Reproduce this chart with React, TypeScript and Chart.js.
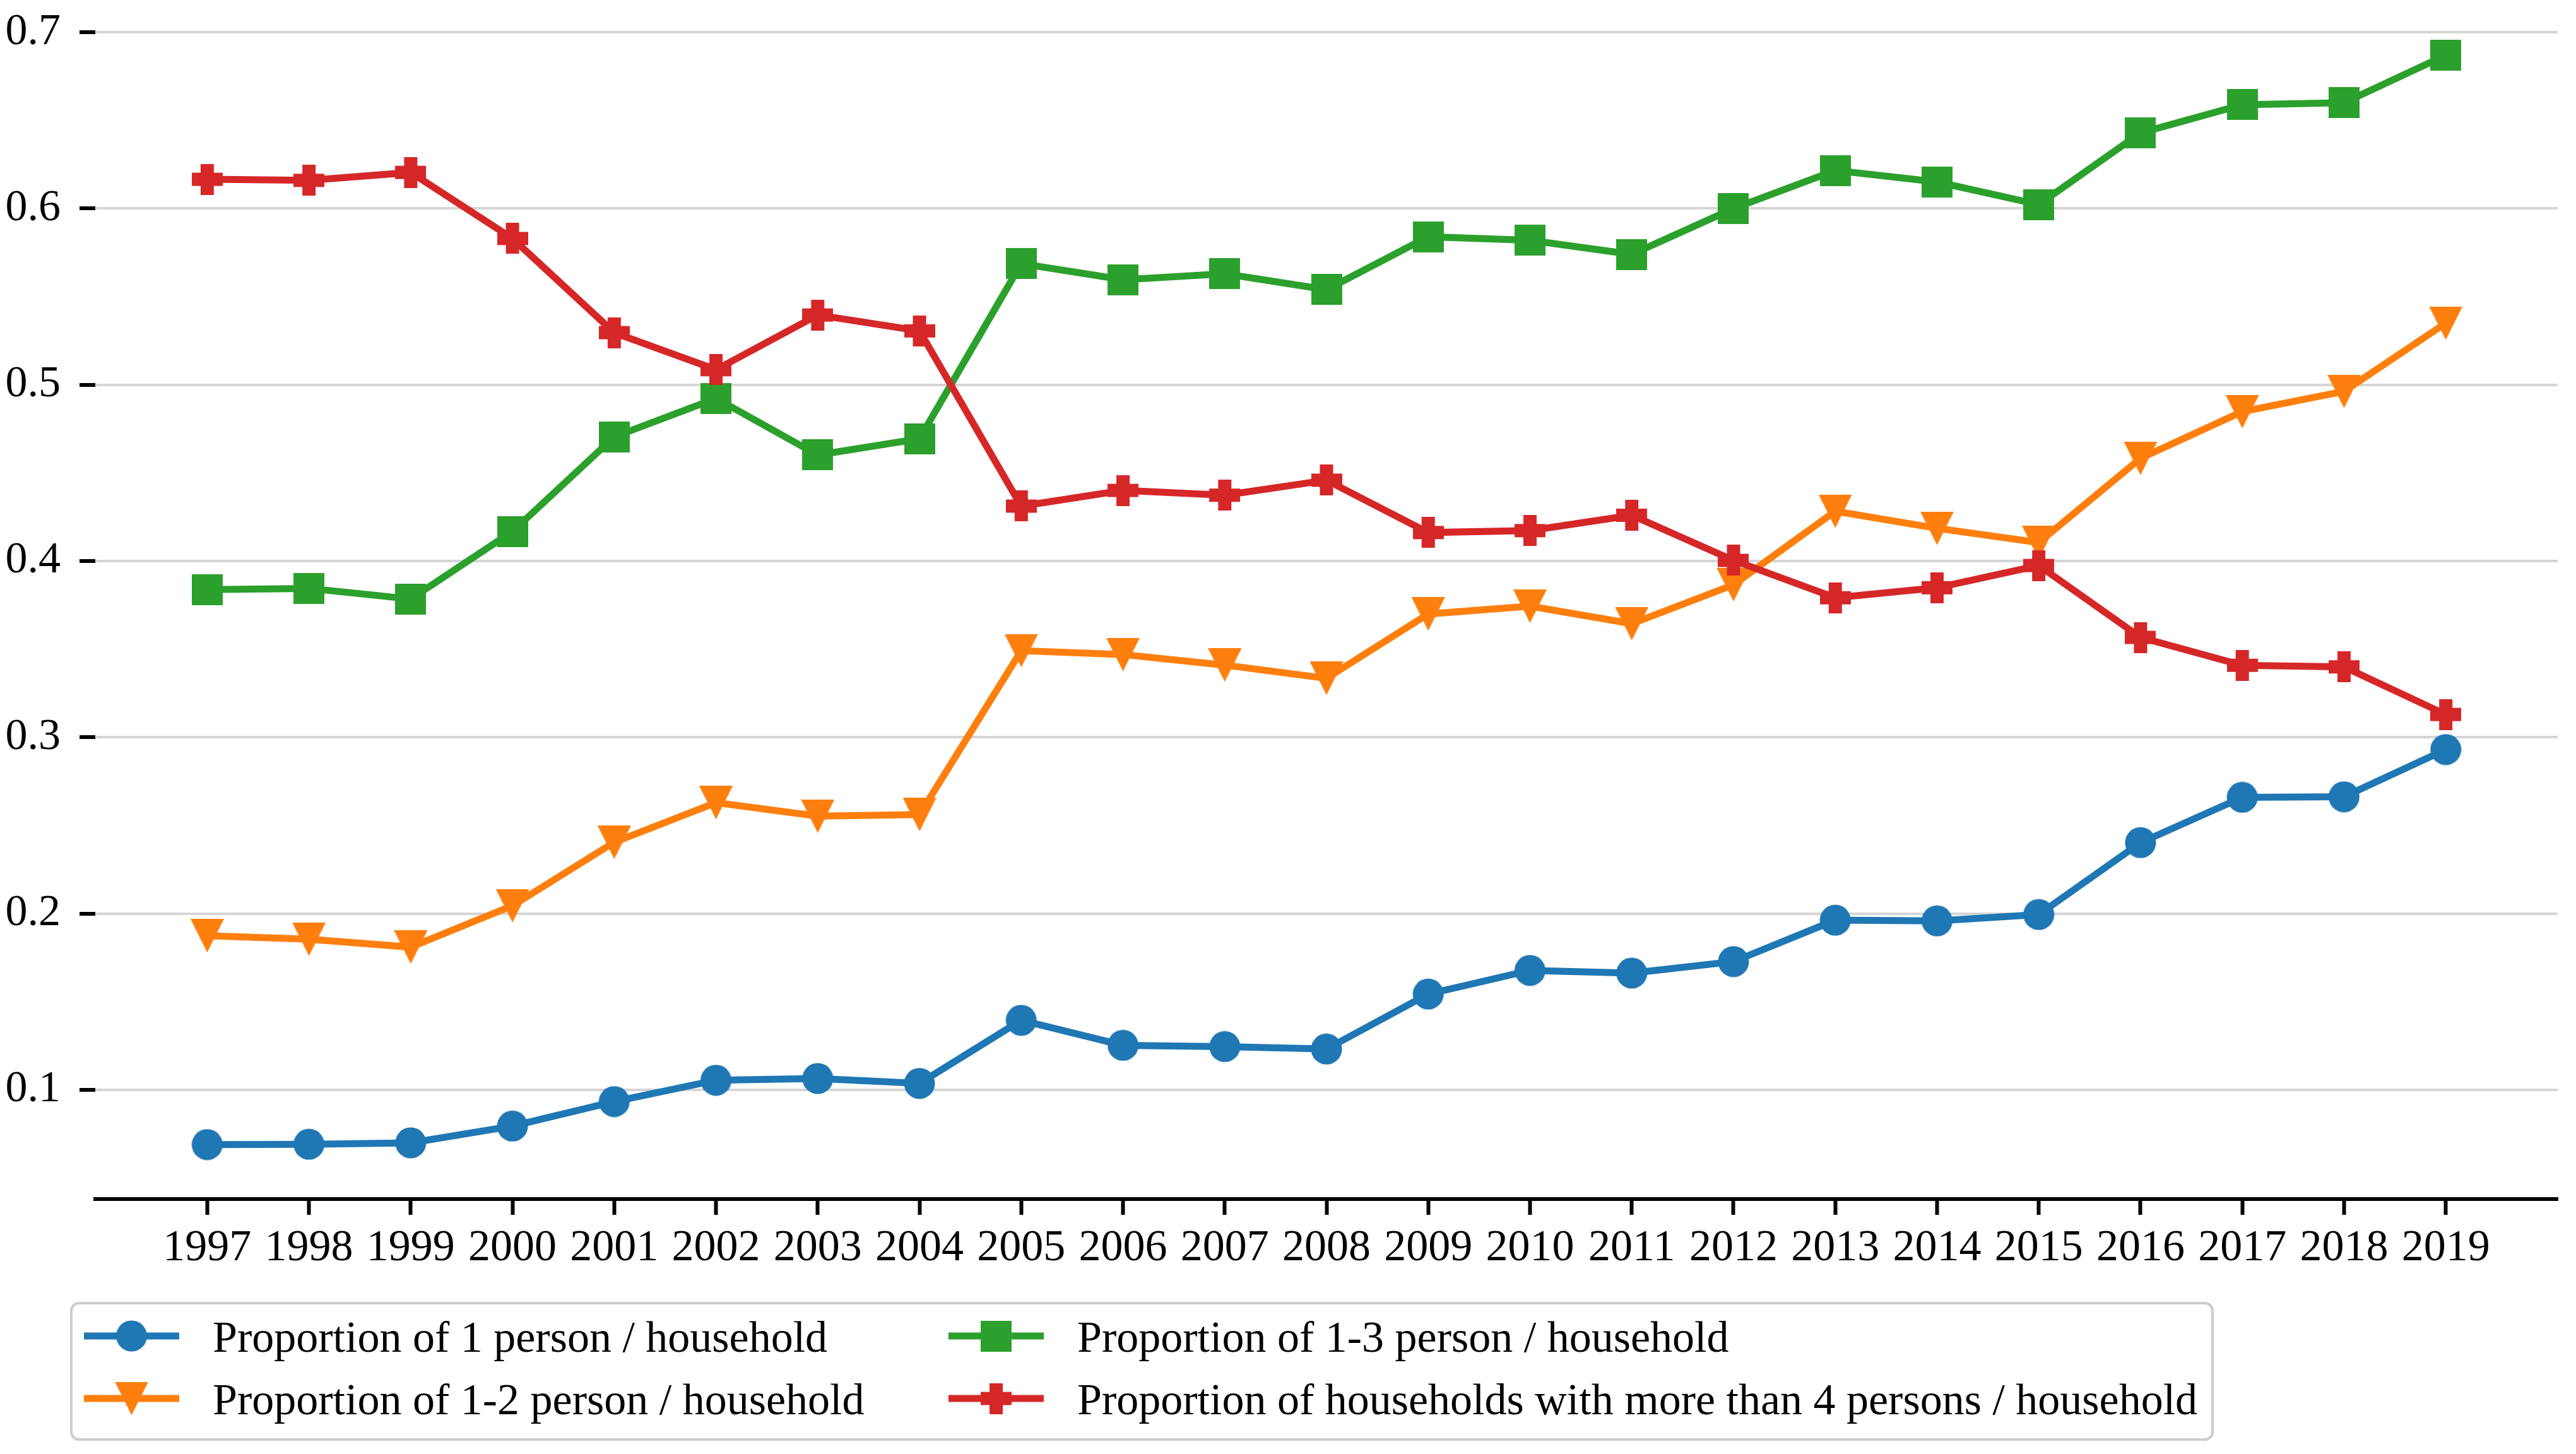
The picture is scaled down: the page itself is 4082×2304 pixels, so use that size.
import React, { useEffect, useRef } from 'react';
import { Chart, registerables } from 'chart.js';

Chart.register(...registerables);

const YEARS = [1997, 1998, 1999, 2000, 2001, 2002, 2003, 2004, 2005, 2006, 2007, 2008, 2009, 2010, 2011, 2012, 2013, 2014, 2015, 2016, 2017, 2018, 2019];

const ONE_PERSON = [0.069, 0.0692, 0.0700, 0.0795, 0.0934, 0.1055, 0.1065, 0.1037, 0.1395, 0.1253, 0.1246, 0.1232, 0.1544, 0.1678, 0.1663, 0.1728, 0.1963, 0.1959, 0.1995, 0.2403, 0.2660, 0.2663, 0.2931];
const ONE_TWO_PERSON = [0.1875, 0.1855, 0.181, 0.2045, 0.2405, 0.263, 0.2553, 0.2562, 0.3492, 0.347, 0.341, 0.3335, 0.370, 0.3744, 0.3645, 0.3866, 0.4283, 0.4186, 0.4105, 0.4583, 0.4848, 0.4963, 0.535];
const ONE_THREE_PERSON = [0.3838, 0.3845, 0.3785, 0.4168, 0.4705, 0.4923, 0.4602, 0.4694, 0.5687, 0.5596, 0.563, 0.554, 0.584, 0.582, 0.574, 0.600, 0.6216, 0.6151, 0.6023, 0.6429, 0.6589, 0.660, 0.687];
const MORE_THAN_FOUR = [0.6166, 0.616, 0.6205, 0.583, 0.5296, 0.5086, 0.5396, 0.5306, 0.4312, 0.4401, 0.4374, 0.4459, 0.4162, 0.4173, 0.426, 0.4004, 0.3792, 0.3849, 0.3975, 0.3567, 0.3409, 0.340, 0.313];

const Y_TICKS = [0.1, 0.2, 0.3, 0.4, 0.5, 0.6, 0.7];

const LABEL_ONE = 'Proportion of 1 person / household';
const LABEL_ONE_TWO = 'Proportion of 1-2 person / household';
const LABEL_ONE_THREE = 'Proportion of 1-3 person / household';
const LABEL_MORE_FOUR = 'Proportion of households with more than 4 persons / household';

const FONT_FAMILY = '"Liberation Serif", "Times New Roman", serif';
const FONT_SIZE = 70;

const BLUE = '#1f77b4';
const ORANGE = '#ff7f0e';
const GREEN = '#2ca02c';
const RED = '#d62728';

type MarkerKind = 'circle' | 'triangleDown' | 'square' | 'plus';

function makeMarker(kind: MarkerKind, color: string): HTMLCanvasElement {
  const c = document.createElement('canvas');
  let w = 50, h = 50;
  if (kind === 'square' || kind === 'plus') { w = 49; h = 49; }
  if (kind === 'triangleDown') { w = 53; h = 53; }
  c.width = w; c.height = h;
  const g = c.getContext('2d')!;
  g.fillStyle = color;
  if (kind === 'circle') {
    g.beginPath();
    g.arc(w / 2, h / 2, 24.5, 0, Math.PI * 2);
    g.fill();
  } else if (kind === 'square') {
    g.fillRect(0, 0, w, h);
  } else if (kind === 'triangleDown') {
    g.beginPath();
    g.moveTo(0, 0);
    g.lineTo(w, 0);
    g.lineTo(w / 2, h);
    g.closePath();
    g.fill();
  } else {
    const arm = 21;
    g.fillRect((w - arm) / 2, 0, arm, h);
    g.fillRect(0, (h - arm) / 2, w, arm);
  }
  return c;
}

function toPoints(values: number[]) {
  return values.map((v, i) => ({ x: YEARS[i], y: v }));
}

export default function App() {
  const ref = useRef<HTMLCanvasElement>(null);

  useEffect(() => {
    const canvas = ref.current;
    if (!canvas) return;

    const markers = {
      blue: makeMarker('circle', BLUE),
      orange: makeMarker('triangleDown', ORANGE),
      green: makeMarker('square', GREEN),
      red: makeMarker('plus', RED),
    };

    const legendEntries = [
      { label: LABEL_ONE, color: BLUE, marker: markers.blue, col: 0, row: 0 },
      { label: LABEL_ONE_TWO, color: ORANGE, marker: markers.orange, col: 0, row: 1 },
      { label: LABEL_ONE_THREE, color: GREEN, marker: markers.green, col: 1, row: 0 },
      { label: LABEL_MORE_FOUR, color: RED, marker: markers.red, col: 1, row: 1 },
    ];

    const legendPlugin = {
      id: 'mplLegend',
      afterDraw(chart: any) {
        const ctx: CanvasRenderingContext2D = chart.ctx;
        const box = { x: 113, y: 2065, w: 3393, h: 216, r: 12 };
        const colLineStart = [133, 1503];
        const lineLen = 151;
        const textGap = 53;
        const rowY = [2117, 2216];
        ctx.save();
        ctx.beginPath();
        ctx.moveTo(box.x + box.r, box.y);
        ctx.lineTo(box.x + box.w - box.r, box.y);
        ctx.arcTo(box.x + box.w, box.y, box.x + box.w, box.y + box.r, box.r);
        ctx.lineTo(box.x + box.w, box.y + box.h - box.r);
        ctx.arcTo(box.x + box.w, box.y + box.h, box.x + box.w - box.r, box.y + box.h, box.r);
        ctx.lineTo(box.x + box.r, box.y + box.h);
        ctx.arcTo(box.x, box.y + box.h, box.x, box.y + box.h - box.r, box.r);
        ctx.lineTo(box.x, box.y + box.r);
        ctx.arcTo(box.x, box.y, box.x + box.r, box.y, box.r);
        ctx.closePath();
        ctx.fillStyle = 'rgba(255,255,255,0.8)';
        ctx.fill();
        ctx.strokeStyle = '#cccccc';
        ctx.lineWidth = 4;
        ctx.stroke();

        ctx.font = `${FONT_SIZE}px ${FONT_FAMILY}`;
        ctx.textBaseline = 'middle';
        ctx.textAlign = 'left';
        for (const e of legendEntries) {
          const x0 = colLineStart[e.col];
          const y = rowY[e.row];
          ctx.strokeStyle = e.color;
          ctx.lineWidth = 11;
          ctx.lineCap = 'butt';
          ctx.beginPath();
          ctx.moveTo(x0, y);
          ctx.lineTo(x0 + lineLen, y);
          ctx.stroke();
          const mx = x0 + lineLen / 2;
          ctx.drawImage(e.marker, mx - e.marker.width / 2, y - e.marker.height / 2);
          ctx.fillStyle = '#000';
          ctx.fillText(e.label, x0 + lineLen + textGap, y + 7);
        }
        ctx.restore();
      },
    };

    const font = { family: FONT_FAMILY, size: FONT_SIZE };

    const mkDataset = (label: string, values: number[], color: string, marker: HTMLCanvasElement, order: number) => ({
      label,
      data: toPoints(values),
      borderColor: color,
      backgroundColor: color,
      borderWidth: 11,
      tension: 0,
      pointStyle: marker,
      pointRadius: 25,
      pointHoverRadius: 25,
      pointBorderWidth: 0,
      order,
    });

    const chart = new Chart(canvas, {
      type: 'line',
      data: {
        datasets: [
          mkDataset(LABEL_ONE, ONE_PERSON, BLUE, markers.blue, 4),
          mkDataset(LABEL_ONE_TWO, ONE_TWO_PERSON, ORANGE, markers.orange, 3),
          mkDataset(LABEL_ONE_THREE, ONE_THREE_PERSON, GREEN, markers.green, 2),
          mkDataset(LABEL_MORE_FOUR, MORE_THAN_FOUR, RED, markers.red, 1),
        ] as any,
      },
      options: {
        animation: false,
        responsive: false,
        devicePixelRatio: 1,
        layout: { autoPadding: false, padding: { left: 0, right: 29, top: 0, bottom: 0 } },
        plugins: {
          legend: { display: false },
          tooltip: { enabled: false },
        },
        scales: {
          x: {
            type: 'linear',
            min: 1995.9,
            max: 2020.1,
            afterBuildTicks: (s: any) => {
              s.ticks = YEARS.map((v) => ({ value: v }));
            },
            afterFit: (s: any) => {
              s.height = 404;
              s.paddingLeft = 0;
              s.paddingRight = 0;
            },
            grid: {
              drawOnChartArea: false,
              drawTicks: true,
              tickLength: 25,
              tickColor: '#000',
              tickWidth: 6,
            },
            border: { display: true, color: '#000', width: 6 },
            ticks: {
              color: '#000',
              font,
              padding: 12,
              maxRotation: 0,
              autoSkip: false,
              callback: (v: any) => String(v),
            },
          },
          y: {
            type: 'linear',
            min: 0.0381,
            max: 0.7183,
            afterBuildTicks: (s: any) => {
              s.ticks = Y_TICKS.map((v) => ({ value: v }));
            },
            afterFit: (s: any) => {
              s.width = 151;
              s.paddingTop = 0;
              s.paddingBottom = 0;
            },
            grid: {
              color: '#d5d5d5',
              lineWidth: 4,
              drawTicks: true,
              tickLength: 25,
              tickColor: '#000',
              tickWidth: 6,
            },
            border: { display: false },
            ticks: {
              color: '#000',
              font,
              padding: 30,
              callback: (v: any) => Number(v).toFixed(1),
            },
          },
        },
      },
      plugins: [legendPlugin],
    });

    return () => chart.destroy();
  }, []);

  return (
    <div style={{ position: 'absolute', left: 0, top: 0, width: '4082px', height: '2304px', background: '#fff' }}>
      <canvas ref={ref} width={4082} height={2304} style={{ display: 'block', width: '4082px', height: '2304px' }} />
    </div>
  );
}
